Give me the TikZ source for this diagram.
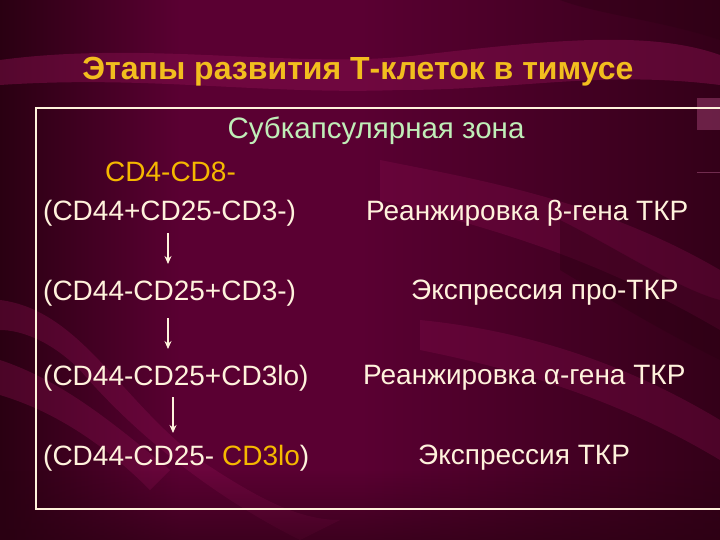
\documentclass[tikz,border=0pt]{standalone}
\usepackage{fontspec}
\usetikzlibrary{arrows.meta,fadings}
\setmainfont{Liberation Sans}
\definecolor{bgbase}{HTML}{5A0032}
\definecolor{bgdark}{HTML}{2A0012}
\definecolor{bgband}{HTML}{8A1050}
\definecolor{titlecol}{HTML}{F2BE1E}
\definecolor{greencol}{HTML}{C0EEB8}
\definecolor{orangecol}{HTML}{F5B800}
\definecolor{creamcol}{HTML}{FFF2DC}
\begin{document}
\begin{tikzpicture}[x=1pt,y=-1pt,
  txt/.style={font=\fontsize{28}{32}\selectfont, text=creamcol, inner sep=0pt},
  flow/.style={draw=creamcol, line width=1.2pt, -{Stealth[length=8pt,width=7pt]}}]
\useasboundingbox (0,0) rectangle (720,540);
% background
\shade[left color=bgdark, right color=bgbase, middle color=bgbase] (0,0) rectangle (360,540);
\shade[left color=bgbase, right color=bgdark!80!bgbase] (360,0) rectangle (720,540);
\begin{scope}
\clip (0,0) rectangle (720,540);
\fill[bgband, opacity=0.45] (0,60) .. controls (150,40) and (300,70) .. (420,55) .. controls (550,40) and (650,30) .. (720,55) -- (720,85) .. controls (600,70) and (520,90) .. (400,90) .. controls (260,95) and (150,75) .. (0,85) -- cycle;
\fill[bgband, opacity=0.35] (0,300) .. controls (80,310) and (120,400) .. (200,460) .. controls (260,500) and (300,520) .. (340,520) -- (300,540) .. controls (220,500) and (140,440) .. (80,370) .. controls (50,340) and (20,330) .. (0,330) -- cycle;
\fill[bgband, opacity=0.35] (0,360) .. controls (60,380) and (110,420) .. (170,470) -- (150,490) .. controls (100,440) and (50,410) .. (0,395) -- cycle;
\fill[bgband, opacity=0.3] (380,160) .. controls (480,180) and (600,200) .. (720,270) -- (720,330) .. controls (600,260) and (500,230) .. (380,200) -- cycle;
\fill[bgband, opacity=0.3] (420,320) .. controls (520,330) and (620,360) .. (720,420) -- (720,460) .. controls (620,400) and (520,370) .. (420,350) -- cycle;
\fill[bgdark, opacity=0.35] (560,0) -- (720,0) -- (720,40) .. controls (660,20) and (600,15) .. (560,0) -- cycle;
\fill[bgdark, opacity=0.4] (560,220) .. controls (620,250) and (680,290) .. (720,300) -- (720,360) .. controls (660,330) and (610,300) .. (560,270) -- cycle;
\fill[bgdark, opacity=0.6, path fading=north] (0,470) rectangle (720,540);
\fill[bgband!80!white, opacity=0.5] (697,98) rectangle (720,130);
\draw[bgband!70!white, opacity=0.5, line width=1pt] (697,173) -- (720,173);
\end{scope}
% title
\node[font=\bfseries\fontsize{32}{36}\selectfont, text=titlecol] (title) at (358,72) {Этапы развития Т-клеток в тимусе};
% frame
\draw[creamcol, line width=1.2pt] (722,108) -- (36,108) -- (36,509) -- (722,509);
% content
\node[txt, font=\fontsize{29.5}{33}\selectfont, text=greencol] (zone) at (376,131) {Субкапсулярная зона};
\node[txt, text=orangecol, anchor=west] (cd48) at (105,172) {CD4-CD8-};
\node[txt, anchor=west] (r1) at (43,213) {(CD44+CD25-CD3-)};
\node[txt, anchor=west] (r2) at (43,293) {(CD44-CD25+CD3-)};
\node[txt, anchor=west] (r3) at (43,378) {(CD44-CD25+CD3lo)};
\node[txt, anchor=west] (r4) at (43,458) {(CD44-CD25- \textcolor{orangecol}{CD3lo})};
\node[txt, anchor=west] (e1) at (366,213) {Реанжировка β-гена ТКР};
\node[txt, anchor=west] (e2) at (411,293) {Экспрессия про-ТКР};
\node[txt, anchor=west] (e3) at (363,378) {Реанжировка α-гена ТКР};
\node[txt, anchor=west] (e4) at (418,458) {Экспрессия ТКР};
% arrows
\coordinate (a1s) at (168,233); \coordinate (a1e) at (168,264);
\coordinate (a2s) at (168,318); \coordinate (a2e) at (168,349);
\coordinate (a3s) at (173,397); \coordinate (a3e) at (173,433);
\draw[flow] (a1s) -- (a1e);
\draw[flow] (a2s) -- (a2e);
\draw[flow] (a3s) -- (a3e);
\end{tikzpicture}
\end{document}
